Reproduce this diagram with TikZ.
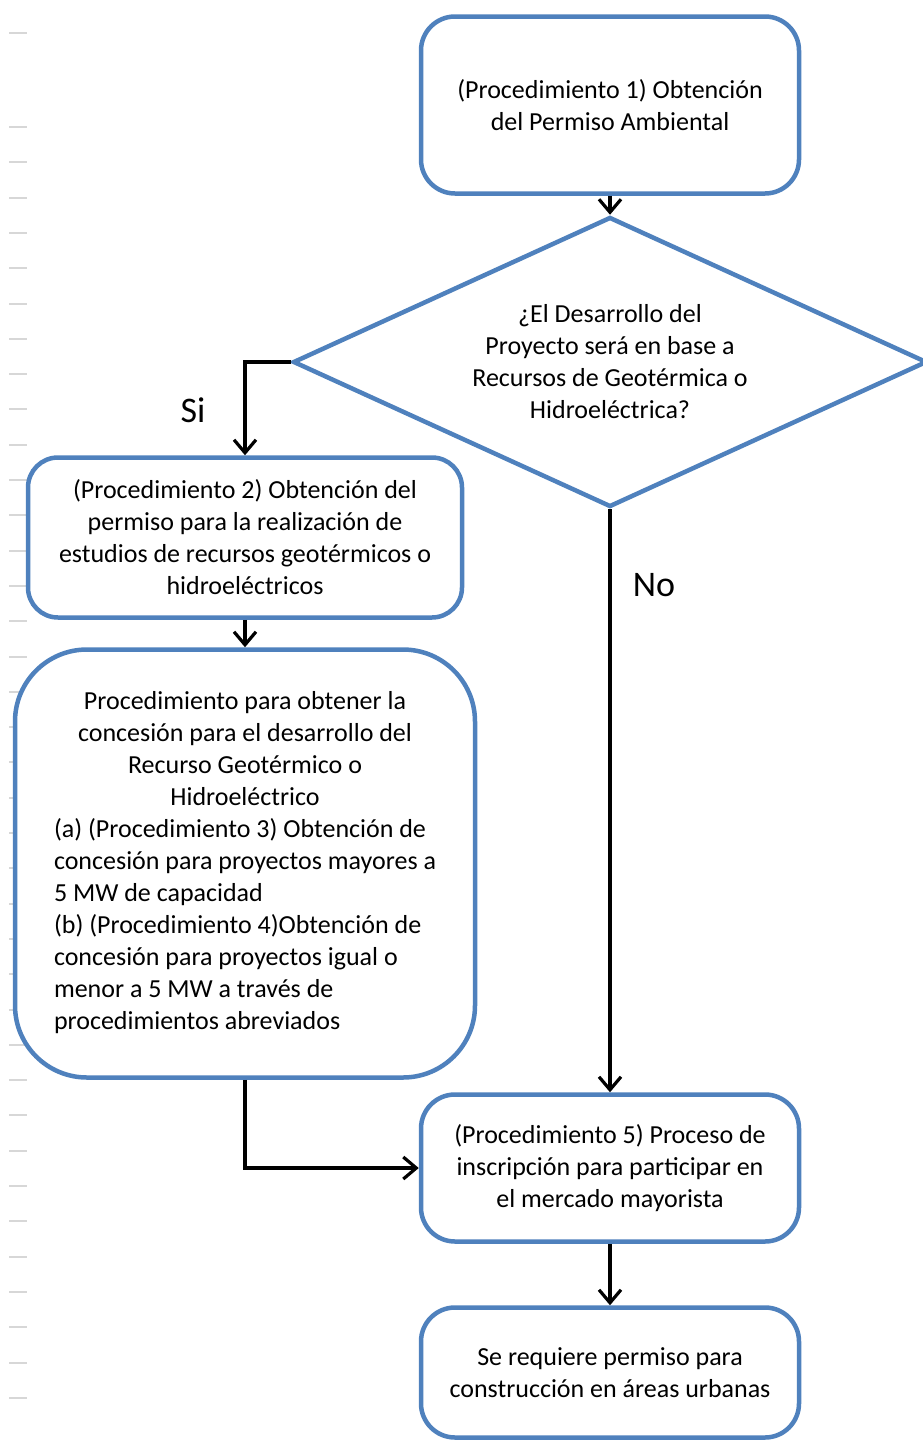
\documentclass[tikz,border=0pt]{standalone}
\usepackage{fontspec}
\setmainfont{Carlito}
\usetikzlibrary{arrows.meta,shapes.geometric}
\definecolor{boxblue}{RGB}{79,129,189}
\definecolor{tickgray}{RGB}{215,215,215}

\begin{document}
\begin{tikzpicture}[x=1pt,y=-1pt,
  box/.style={draw=boxblue,line width=4.5pt,fill=white,rounded corners=#1,
    inner sep=0pt,font=\fontsize{26}{32}\selectfont},
  box/.default=34pt,
  decision/.style={draw=boxblue,line width=4.5pt,fill=white,shape=diamond,
    aspect=2.18,inner sep=0pt,align=center,font=\fontsize{26}{32}\selectfont},
  arr/.style={draw=black,line width=3.2pt,-{Straight Barb[length=13pt,width=22pt]}},
  lbl/.style={font=\fontsize{36}{40}\selectfont,inner sep=0pt},
  tick/.style={draw=tickgray,line width=2pt}]

\useasboundingbox (0,0) rectangle (922,1443);

% ruler ticks along the left margin
\draw[tick] (9,33) -- (27,33);
\foreach \k in {0,...,36}
  \draw[tick] (9,127+35.3*\k) -- (27,127+35.3*\k);

% boxes
\node[box,align=center,minimum width=378pt,minimum height=177pt] (b1) at (610,105)
  {(Procedimiento 1) Obtención\\del Permiso Ambiental};

\node[decision,minimum width=634pt,minimum height=290pt] (dec) at (610,362)
  {¿El Desarrollo del\\Proyecto será en base a\\Recursos de Geotérmica o\\Hidroeléctrica?};

\node[box=30pt,align=center,minimum width=434pt,minimum height=160pt] (b2) at (245,537.5)
  {(Procedimiento 2) Obtención del\\permiso para la realización de\\estudios de recursos geotérmicos o\\hidroeléctricos};

\node[box=72pt,minimum width=460pt,minimum height=428pt] (b3) at (245,863.5)
  {\renewcommand{\arraystretch}{1}%
   \raisebox{-3pt}{\begin{tabular}{@{}l@{}}
   \multicolumn{1}{@{}c@{}}{Procedimiento para obtener la}\\
   \multicolumn{1}{@{}c@{}}{concesión para el desarrollo del}\\
   \multicolumn{1}{@{}c@{}}{Recurso Geotérmico o}\\
   \multicolumn{1}{@{}c@{}}{Hidroeléctrico}\\
   (a) (Procedimiento 3) Obtención de\\
   concesión para proyectos mayores a\\
   5 MW de capacidad\\
   (b) (Procedimiento 4)Obtención de\\
   concesión para proyectos igual o\\
   menor a 5 MW a través de\\
   procedimientos abreviados
   \end{tabular}}};

\node[box,align=center,minimum width=378pt,minimum height=147pt] (b5) at (610,1168)
  {(Procedimiento 5) Proceso de\\inscripción para participar en\\el mercado mayorista};

\node[box,align=center,minimum width=378pt,minimum height=130pt] (b6) at (610,1372.5)
  {Se requiere permiso para\\construcción en áreas urbanas};

% connectors
\draw[arr] (b1.south) -- (dec.north);
\draw[arr] (dec.west) -| (b2.north);
\draw[arr] (b2.south) -- (b3.north);
\draw[arr] (dec.south) -- (b5.north);
\draw[arr] (b3.south) |- (b5.west);
\draw[arr] (b5.south) -- (b6.north);

% branch labels
\node[lbl] (si) at (193,410) {Si};
\node[lbl] (no) at (654,585) {No};

\end{tikzpicture}
\end{document}
